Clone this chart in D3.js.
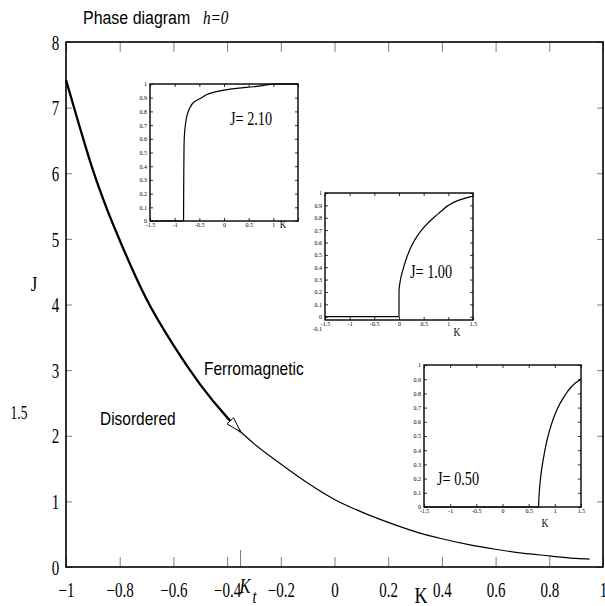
<!DOCTYPE html>
<html>
<head>
<meta charset="utf-8">
<script src="https://cdn.jsdelivr.net/npm/d3@7/dist/d3.min.js"></script>
<style>
body { margin: 0; background: #fff; }
</style>
</head>
<body>
<div id="chart"></div>
<script>
// 1. Data
// phase boundary J(K)
const boundaryK = [-1, -0.95, -0.9, -0.85, -0.8, -0.7, -0.6, -0.5, -0.4, -0.35, -0.3, -0.2, -0.1, 0, 0.1, 0.2, 0.3, 0.4, 0.5, 0.6, 0.7, 0.8, 0.9, 0.95];
const boundaryJ = [7.42, 6.72, 6.05, 5.48, 4.98, 4.08, 3.38, 2.78, 2.28, 2.06, 1.88, 1.57, 1.28, 1.03, 0.84, 0.68, 0.54, 0.43, 0.34, 0.27, 0.21, 0.17, 0.13, 0.12];
const Kt = -0.35;

const xTicks = [-1, -0.8, -0.6, -0.4, -0.2, 0, 0.2, 0.4, 0.6, 0.8, 1];
const yTicks = [0, 1, 2, 3, 4, 5, 6, 7, 8];

// insets: magnetisation vs K
const insetXTicks = [-1.5, -1, -0.5, 0, 0.5, 1, 1.5];
const insetYTicks = [0, 0.1, 0.2, 0.3, 0.4, 0.5, 0.6, 0.7, 0.8, 0.9, 1];
const insetYTicksLow = [-0.1, 0, 0.1, 0.2, 0.3, 0.4, 0.5, 0.6, 0.7, 0.8, 0.9, 1];

const magK210 = [-1.5, -0.82, -0.815, -0.81, -0.8, -0.78, -0.75, -0.7, -0.6, -0.45, -0.3, 0, 0.3, 0.6, 0.8, 1.0, 1.5];
const mag210  = [0, 0, 0.35, 0.55, 0.64, 0.71, 0.77, 0.82, 0.87, 0.9, 0.93, 0.955, 0.97, 0.98, 0.99, 1, 1];

const magK100 = [-1.5, 0, 0, 0.03, 0.08, 0.15, 0.25, 0.4, 0.5, 0.7, 0.85, 1.0, 1.2, 1.5];
const mag100  = [0, 0, 0.2, 0.3, 0.38, 0.47, 0.57, 0.67, 0.72, 0.8, 0.85, 0.9, 0.94, 0.975];

const magK050 = [-1.5, 0.69, 0.7, 0.72, 0.75, 0.8, 0.85, 0.9, 1.0, 1.1, 1.2, 1.3, 1.4, 1.5];
const mag050  = [0, 0, 0.09, 0.18, 0.27, 0.38, 0.47, 0.54, 0.65, 0.73, 0.79, 0.84, 0.875, 0.9];

const insetLabels = ["J= 2.10", "J= 1.00", "J= 0.50"];

// 2. Layout
const W = 605, H = 606;
const frame = { left: 66, right: 603, top: 42, bottom: 567 };
const SERIF = '"Liberation Serif", "Times New Roman", serif';
const SANS = '"Liberation Sans", Arial, sans-serif';

const svg = d3.select("#chart").append("svg")
    .attr("width", W)
    .attr("height", H);

const x = d3.scaleLinear().domain([-1, 1]).range([frame.left, frame.right]);
const y = d3.scaleLinear().domain([0, 8]).range([frame.bottom, frame.top]);

// 3. Main axes (ticks inside the frame)
function styleAxis(g) {
    g.select(".domain").remove();
    g.selectAll(".tick line").attr("stroke", "#808080").attr("stroke-width", 1);
    g.attr("font-family", SERIF).attr("font-size", 20);
    g.selectAll(".tick text").attr("fill", "#000");
}

svg.append("g")
    .attr("transform", `translate(0,${frame.bottom})`)
    .call(d3.axisBottom(x).tickValues(xTicks).tickSizeInner(-10).tickSizeOuter(0).tickPadding(16).tickFormat(d3.format("")))
    .call(styleAxis)
    .call(g => g.selectAll(".tick text").attr("transform", "scale(0.75,1)"));

svg.append("g")
    .attr("transform", `translate(0,${frame.top})`)
    .call(d3.axisTop(x).tickValues(xTicks).tickSizeInner(-10).tickSizeOuter(0).tickFormat(""))
    .call(styleAxis);

svg.append("g")
    .attr("transform", `translate(${frame.left},0)`)
    .call(d3.axisLeft(y).tickValues(yTicks).tickSizeInner(-6).tickSizeOuter(0).tickPadding(9).tickFormat(d3.format("")))
    .call(styleAxis)
    .call(g => g.selectAll(".tick text").attr("dy", "0.36em").attr("transform", "scale(0.75,1)"));

svg.append("g")
    .attr("transform", `translate(${frame.right},0)`)
    .call(d3.axisRight(y).tickValues(yTicks).tickSizeInner(-6).tickSizeOuter(0).tickFormat(""))
    .call(styleAxis);

// K_t tick (longer)
svg.append("line")
    .attr("x1", x(Kt)).attr("x2", x(Kt))
    .attr("y1", frame.bottom).attr("y2", frame.bottom - 17)
    .attr("stroke", "#808080");

svg.append("rect")
    .attr("x", frame.left).attr("y", frame.top)
    .attr("width", frame.right - frame.left)
    .attr("height", frame.bottom - frame.top)
    .attr("fill", "none")
    .attr("stroke", "#000")
    .attr("stroke-width", 1.6);

// 4. Phase boundary
const boundary = boundaryK.map((k, i) => ({ k: k, j: boundaryJ[i] }));
const line = d3.line().x(d => x(d.k)).y(d => y(d.j)).curve(d3.curveMonotoneX);

svg.append("path")
    .datum(boundary.filter(d => d.k <= Kt))
    .attr("d", line)
    .attr("fill", "none")
    .attr("stroke", "#000")
    .attr("stroke-width", 2.3);

svg.append("path")
    .datum(boundary.filter(d => d.k >= Kt))
    .attr("d", line)
    .attr("fill", "none")
    .attr("stroke", "#000")
    .attr("stroke-width", 1.2);

// open arrow head at K_t
const tipIdx = boundaryK.indexOf(Kt);
const tip = [x(Kt), y(boundaryJ[tipIdx])];
const prev = [x(boundaryK[tipIdx - 1]), y(boundaryJ[tipIdx - 1])];
const len = Math.hypot(tip[0] - prev[0], tip[1] - prev[1]);
const u = [(tip[0] - prev[0]) / len, (tip[1] - prev[1]) / len];
const base = [tip[0] - 15 * u[0], tip[1] - 15 * u[1]];
const nrm = [-u[1], u[0]];
svg.append("path")
    .attr("d", `M${tip[0]},${tip[1]}L${base[0] + 4.5 * nrm[0]},${base[1] + 4.5 * nrm[1]}L${base[0] - 4.5 * nrm[0]},${base[1] - 4.5 * nrm[1]}Z`)
    .attr("fill", "#fff")
    .attr("stroke", "#000")
    .attr("stroke-width", 1);

// 5. Texts
function addText(txt, px, py, opts) {
    return svg.append("text")
        .attr("transform", `translate(${px},${py}) scale(${opts.sx || 1},1)`)
        .attr("font-family", opts.family || SERIF)
        .attr("font-size", opts.size)
        .attr("font-style", opts.italic ? "italic" : null)
        .attr("text-anchor", opts.anchor || "start")
        .attr("fill", "#000")
        .text(txt);
}

addText("Phase diagram", 83, 24, { family: SANS, size: 19, sx: 0.84 });
addText("h=0", 203, 24, { size: 19, italic: true, sx: 0.8 });
addText("Ferromagnetic", 204, 375, { family: SANS, size: 18, sx: 0.86 });
addText("Disordered", 100, 425, { family: SANS, size: 18, sx: 0.86 });
addText("J", 34, 291, { size: 21, sx: 0.8, anchor: "middle" });
addText("1.5", 19, 419, { size: 18, sx: 0.75, anchor: "middle" });
addText("K", 421, 603, { size: 24, sx: 0.75, anchor: "middle" });
addText("K", x(Kt) - 1, 593, { size: 22, sx: 0.75, italic: true });
addText("t", x(Kt) + 12, 603, { size: 18, sx: 0.8, italic: true });

// 6. Insets
const insets = [
    { left: 150, right: 298, top: 84, bottom: 221, yMin: 0, yTicks: insetYTicks, hideX: [1.5], k: [283, 228, 11], label: [230, 125] },
    { left: 325, right: 473, top: 193, bottom: 320, yMin: -0.027, yTicks: insetYTicksLow, hideX: [], k: [457, 336, 12], label: [410, 278] },
    { left: 424, right: 581, top: 365, bottom: 507, yMin: 0, yTicks: insetYTicks, hideX: [], k: [545, 527, 12], label: [437, 485] }
];
const insetData = [[magK210, mag210], [magK100, mag100], [magK050, mag050]];

function drawInset(cfg, kVals, mVals, label) {
    const xi = d3.scaleLinear().domain([-1.5, 1.5]).range([cfg.left, cfg.right]);
    const yi = d3.scaleLinear().domain([cfg.yMin, 1]).range([cfg.bottom, cfg.top]);
    const g = svg.append("g");

    g.append("rect")
        .attr("x", cfg.left).attr("y", cfg.top)
        .attr("width", cfg.right - cfg.left).attr("height", cfg.bottom - cfg.top)
        .attr("fill", "#fff");

    const small = gg => {
        gg.select(".domain").remove();
        gg.attr("font-family", SERIF).attr("font-size", 6);
        gg.selectAll(".tick line").attr("stroke", "#000").attr("stroke-width", 0.8);
        gg.selectAll(".tick text").attr("fill", "#000");
    };

    g.append("g").attr("transform", `translate(0,${cfg.bottom})`)
        .call(d3.axisBottom(xi).tickValues(insetXTicks).tickSizeInner(-3).tickSizeOuter(0).tickPadding(2)
            .tickFormat(d => cfg.hideX.includes(d) ? "" : String(d)))
        .call(small);
    g.append("g").attr("transform", `translate(0,${cfg.top})`)
        .call(d3.axisTop(xi).tickValues(insetXTicks).tickSizeInner(-3).tickSizeOuter(0).tickFormat(""))
        .call(small);
    g.append("g").attr("transform", `translate(${cfg.left},0)`)
        .call(d3.axisLeft(yi).tickValues(cfg.yTicks).tickSizeInner(-3).tickSizeOuter(0).tickPadding(3).tickFormat(d => String(d)))
        .call(small)
        .call(gg => gg.selectAll(".tick").filter(d => d < cfg.yMin).select("line").remove());
    g.append("g").attr("transform", `translate(${cfg.right},0)`)
        .call(d3.axisRight(yi).tickValues(cfg.yTicks.filter(d => d >= cfg.yMin)).tickSizeInner(-3).tickSizeOuter(0).tickFormat(""))
        .call(small);

    // flat m=0 part, monotone rise, flat m=1 part
    const pts = kVals.map((k, i) => ({ k: k, m: mVals[i] }));
    const i0 = mVals.lastIndexOf(0);
    let i1 = mVals.indexOf(1);
    if (i1 < 0) i1 = pts.length - 1;
    const segs = [
        [pts.slice(0, i0 + 1), d3.curveLinear],
        [pts.slice(i0, i1 + 1), d3.curveMonotoneY],
        [pts.slice(i1), d3.curveLinear]
    ];
    segs.forEach(([seg, curve]) => {
        if (seg.length < 2) return;
        g.append("path")
            .datum(seg)
            .attr("d", d3.line().x(d => xi(d.k)).y(d => yi(d.m)).curve(curve))
            .attr("fill", "none")
            .attr("stroke", "#000")
            .attr("stroke-width", 1.2);
    });

    g.append("rect")
        .attr("x", cfg.left).attr("y", cfg.top)
        .attr("width", cfg.right - cfg.left).attr("height", cfg.bottom - cfg.top)
        .attr("fill", "none")
        .attr("stroke", "#000")
        .attr("stroke-width", 1.4);

    g.append("text")
        .attr("transform", `translate(${cfg.label[0]},${cfg.label[1]}) scale(0.75,1)`)
        .attr("font-family", SERIF).attr("font-size", 19).attr("fill", "#000")
        .text(label);
    g.append("text")
        .attr("transform", `translate(${cfg.k[0]},${cfg.k[1]}) scale(0.8,1)`)
        .attr("font-family", SERIF).attr("font-size", cfg.k[2]).attr("text-anchor", "middle").attr("fill", "#000")
        .text("K");
}

insets.forEach((cfg, i) => drawInset(cfg, insetData[i][0], insetData[i][1], insetLabels[i]));
</script>
</body>
</html>
